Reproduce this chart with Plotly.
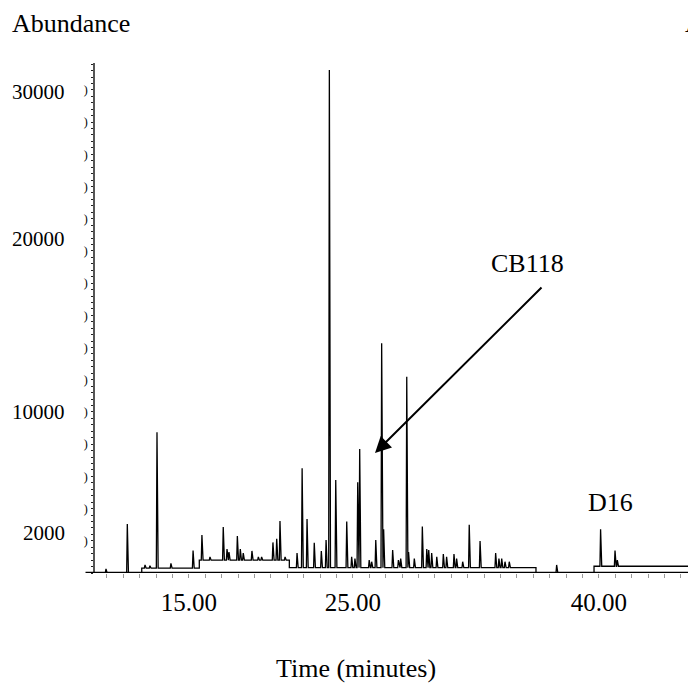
import numpy as np
import plotly.graph_objects as go

# ---- data ----
peak_time = [9.94, 11.24, 12.32, 12.62, 13.05, 13.90, 15.25, 15.79, 16.28, 17.09,
             17.32, 17.44, 17.95, 18.13, 18.31, 18.84, 19.23, 19.43, 20.12, 20.35,
             20.55, 20.86, 21.59, 21.90, 22.20, 22.64, 23.07, 23.36, 23.56, 23.95,
             24.62, 24.92, 25.12, 25.29, 25.41, 25.99, 26.14, 26.39, 26.75, 26.87,
             27.42, 27.77, 27.91, 28.28, 28.39, 28.74, 29.23, 29.50, 29.62, 29.80,
             30.11, 30.51, 30.71, 31.16, 31.32, 31.69, 32.09, 32.75, 33.70, 33.90,
             34.07, 34.27, 34.53, 37.42, 40.10, 40.98, 41.12]
peak_abund = [250, 3040, 500, 450, 8740, 600, 1390, 2360, 1000, 2860,
              1490, 1300, 2300, 1490, 1240, 1370, 1000, 1000, 1900, 2130,
              3230, 1000, 1240, 6500, 3350, 1880, 1370, 2050, 31240, 5780,
              3190, 1000, 900, 5630, 7700, 800, 700, 2050, 14260, 2710,
              1430, 800, 900, 12190, 1300, 900, 2880, 1490, 1430, 1240,
              1000, 1180, 1000, 1180, 900, 700, 3000, 1990, 1240, 900,
              900, 700, 700, 500, 2710, 1390, 800]
base_time = [9.27, 12.12, 15.63, 21.12, 36.16, 39.70, 45.43]
base_level = [0, 300, 800, 330, 20, 420]

x_tick_vals = [15, 25, 40]
x_tick_text = ["15.00", "25.00", "40.00"]
y_minor_vals = list(range(2000, 30001, 2000))
y_label_text = ["30000", "20000", "10000", "2000"]
y_label_pos = [29870, 20740, 10000, 2480]

X_RANGE = [9.27, 45.43]
Y_RANGE = [0, 31670]


def base_at(t):
    i = int(np.searchsorted(base_time, t, side="right")) - 1
    i = min(max(i, 0), len(base_level) - 1)
    return base_level[i]


events = [("p", t, h) for t, h in zip(peak_time, peak_abund)]
events += [("s", base_time[i], None) for i in range(1, len(base_level))]
events.sort(key=lambda e: e[1])

xs = [base_time[0]]
ys = [base_level[0]]
for kind, t, h in events:
    if kind == "s":
        xs += [t, t]
        ys += [base_at(t - 1e-6), base_at(t + 1e-6)]
    else:
        b = base_at(t)
        xs += [t - 0.04, t, t + 0.07]
        ys += [b, h, b]
xs.append(base_time[-1])
ys.append(base_level[-1])

fig = go.Figure()
fig.add_trace(go.Scatter(x=xs, y=ys, mode="lines",
                         line=dict(color="black", width=1.3),
                         hoverinfo="skip"))

SERIF = "Liberation Serif, Times New Roman, serif"

fig.update_layout(
    width=688, height=683,
    margin=dict(l=95, r=0, t=63, b=110),
    paper_bgcolor="white", plot_bgcolor="white",
    showlegend=False,
    font=dict(family=SERIF, color="black"),
    xaxis=dict(range=X_RANGE, showgrid=False, zeroline=False, showline=False,
               tickmode="array", tickvals=x_tick_vals, ticktext=x_tick_text,
               ticks="", ticklabelstandoff=12,
               tickfont=dict(family=SERIF, size=25, color="black"),
               minor=dict(ticks="outside", ticklen=4, dtick=1, tick0=0,
                          tickcolor="#999", tickwidth=1)),
    yaxis=dict(range=Y_RANGE, showgrid=False, zeroline=False,
               showline=True, linecolor="#555", linewidth=1.5,
               tickmode="array", tickvals=y_minor_vals,
               ticktext=[")"] * len(y_minor_vals),
               ticks="", ticklabelstandoff=3,
               tickfont=dict(family=SERIF, size=12, color="black"),
               minor=dict(ticks="outside", ticklen=2, dtick=400, tick0=0,
                          tickcolor="#222", tickwidth=1)),
)

# x axis line (extends slightly left of the y axis)
fig.add_shape(type="line", xref="paper", yref="y", x0=-0.016, x1=1.0,
              y0=0, y1=0, line=dict(color="black", width=2.5))

for txt, pos in zip(y_label_text, y_label_pos):
    fig.add_annotation(xref="paper", yref="y", x=-0.0472, y=pos, text=txt,
                       showarrow=False, xanchor="right", yanchor="middle",
                       font=dict(family=SERIF, size=21, color="black"))

fig.add_annotation(xref="paper", yref="paper", x=-0.1433, y=1.0765,
                   text="Abundance", showarrow=False, xanchor="left",
                   yanchor="middle", font=dict(family=SERIF, size=26))
fig.add_annotation(xref="paper", yref="paper", x=0.9916, y=1.0765,
                   text="A", showarrow=False, xanchor="left",
                   yanchor="middle", font=dict(family=SERIF, size=26))
fig.add_annotation(xref="paper", yref="paper", x=0.4401, y=-0.188,
                   text="Time (minutes)", showarrow=False, xanchor="center",
                   yanchor="middle", font=dict(family=SERIF, size=26))
fig.add_annotation(xref="paper", yref="paper", x=0.7285, y=0.6078,
                   text="CB118", showarrow=False, xanchor="center",
                   yanchor="middle", font=dict(family=SERIF, size=26))
fig.add_annotation(xref="paper", yref="paper", x=0.8685, y=0.1373,
                   text="D16", showarrow=False, xanchor="center",
                   yanchor="middle", font=dict(family=SERIF, size=26))
fig.add_annotation(xref="paper", yref="paper", x=0.4722, y=0.2353,
                   text="", showarrow=True, axref="pixel", ayref="pixel",
                   ax=168, ay=-167, arrowhead=2, arrowsize=1.6,
                   arrowwidth=2, arrowcolor="black", standoff=0)

# remove the default page margin so the figure fills the window exactly
fig.write_html("out.html",
               config={"displayModeBar": False},
               post_script="document.body.style.margin='0';"
                           "document.body.style.overflow='hidden';")
